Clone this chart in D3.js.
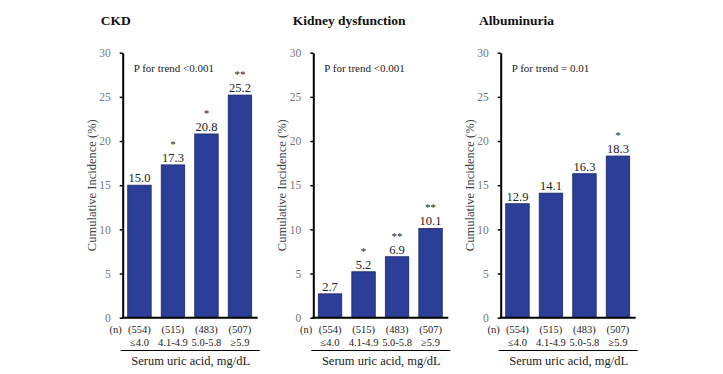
<!DOCTYPE html>
<html>
<head>
<meta charset="utf-8">
<script src="https://cdn.jsdelivr.net/npm/d3@7"></script>
<style>
  body { margin: 0; background: #fff; }
  svg { display: block; font-family: "Liberation Serif", "DejaVu Serif", serif; }
</style>
</head>
<body>
<svg id="chart" width="723" height="374"></svg>
<script>
// data
const categories = ["≤4.0", "4.1-4.9", "5.0-5.8", "≥5.9"];
const counts = ["(554)", "(515)", "(483)", "(507)"];
const panelTitles = ["CKD", "Kidney dysfunction", "Albuminuria"];
const trendLabels = ["P for trend <0.001", "P for trend <0.001", "P for trend = 0.01"];
const ckdValues = [15.0, 17.3, 20.8, 25.2];
const ckdStars = ["", "*", "*", "**"];
const kidneyValues = [2.7, 5.2, 6.9, 10.1];
const kidneyStars = ["", "*", "**", "**"];
const albuminValues = [12.9, 14.1, 16.3, 18.3];
const albuminStars = ["", "", "", "*"];
const yTicks = [0, 5, 10, 15, 20, 25, 30];

const panels = [
    { title: panelTitles[0], trend: trendLabels[0], values: ckdValues, stars: ckdStars },
    { title: panelTitles[1], trend: trendLabels[1], values: kidneyValues, stars: kidneyStars },
    { title: panelTitles[2], trend: trendLabels[2], values: albuminValues, stars: albuminStars }
];

const svg = d3.select('#chart');
const axisX = [122.7, 313.3, 500.7]; // y-axis position for each panel
const titleX = [100.7, 292.7, 479];
const plotWidth = 134;
const barColor = '#2c3f98';

const y = d3.scaleLinear().domain([0, 30]).range([317.7, 52.7]);

panels.forEach((panel, i) => {
    const x0 = axisX[i];
    const g = svg.append('g');

    const x = d3.scaleBand()
        .domain(categories)
        .range([x0, x0 + plotWidth])
        .paddingInner(0.3)
        .paddingOuter(0.15);

    // title
    g.append('text')
        .attr('x', titleX[i])
        .attr('y', 25)
        .attr('font-size', 13.5)
        .attr('font-weight', 'bold')
        .attr('fill', '#111')
        .text(panel.title);

    // bars
    g.selectAll('rect.bar')
        .data(panel.values)
        .enter()
        .append('rect')
        .attr('class', 'bar')
        .attr('x', (d, j) => x(categories[j]))
        .attr('width', x.bandwidth())
        .attr('y', d => y(d))
        .attr('height', d => y(0) - y(d))
        .attr('fill', barColor)
        .attr('stroke', '#1b2565')
        .attr('stroke-width', 0.8);

    // value labels
    g.selectAll('text.val')
        .data(panel.values)
        .enter()
        .append('text')
        .attr('class', 'val')
        .attr('x', (d, j) => x(categories[j]) + x.bandwidth() / 2)
        .attr('y', d => y(d) - 3)
        .attr('text-anchor', 'middle')
        .attr('font-size', 12.5)
        .attr('fill', '#222')
        .text(d => d.toFixed(1));

    // significance stars
    g.selectAll('text.star')
        .data(panel.stars)
        .enter()
        .append('text')
        .attr('class', 'star')
        .attr('x', (d, j) => x(categories[j]) + x.bandwidth() / 2)
        .attr('y', (d, j) => y(panel.values[j]) - 17)
        .attr('text-anchor', 'middle')
        .attr('font-size', 11)
        .attr('fill', '#222')
        .text(d => d);

    // y axis
    const yAxis = g.append('g')
        .attr('transform', `translate(${x0},0)`)
        .call(d3.axisLeft(y).tickValues(yTicks).tickSize(3).tickSizeOuter(0).tickPadding(9));
    yAxis.select('.domain').attr('stroke', '#000').attr('stroke-width', 2);
    yAxis.selectAll('.tick line').attr('stroke', '#000').attr('stroke-width', 1.5);
    yAxis.selectAll('.tick text')
        .attr('font-family', '"Liberation Serif", serif')
        .attr('font-size', 11.5)
        .attr('fill', '#777');

    // baseline
    g.append('line')
        .attr('x1', x0 - 1)
        .attr('x2', x0 + plotWidth + 1)
        .attr('y1', y(0))
        .attr('y2', y(0))
        .attr('stroke', '#000')
        .attr('stroke-width', 2);

    // y axis title
    g.append('text')
        .attr('transform', `translate(${x0 - 27},${y(15)}) rotate(-90)`)
        .attr('text-anchor', 'middle')
        .attr('font-size', 12.5)
        .attr('fill', '#444')
        .text('Cumulative Incidence (%)');

    // P for trend
    g.append('text')
        .attr('x', x0 + 11)
        .attr('y', 72)
        .attr('font-size', 11)
        .attr('fill', '#222')
        .text(panel.trend);

    // (n) row
    g.append('text')
        .attr('x', x0 - 1)
        .attr('y', 333)
        .attr('text-anchor', 'end')
        .attr('font-size', 10.5)
        .attr('fill', '#222')
        .text('(n)');

    g.selectAll('text.n')
        .data(counts)
        .enter()
        .append('text')
        .attr('class', 'n')
        .attr('x', (d, j) => x(categories[j]) + x.bandwidth() / 2)
        .attr('y', 333)
        .attr('text-anchor', 'middle')
        .attr('font-size', 10.5)
        .attr('fill', '#222')
        .text(d => d);

    g.selectAll('text.cat')
        .data(categories)
        .enter()
        .append('text')
        .attr('class', 'cat')
        .attr('x', d => x(d) + x.bandwidth() / 2)
        .attr('y', 346)
        .attr('text-anchor', 'middle')
        .attr('font-size', 10.5)
        .attr('fill', '#222')
        .text(d => d);

    g.append('line')
        .attr('x1', x0 - 2)
        .attr('x2', x0 + plotWidth + 3)
        .attr('y1', 350.5)
        .attr('y2', 350.5)
        .attr('stroke', '#000')
        .attr('stroke-width', 1.2);

    g.append('text')
        .attr('x', x0 + plotWidth / 2 + 1)
        .attr('y', 365)
        .attr('text-anchor', 'middle')
        .attr('font-size', 12.5)
        .attr('fill', '#222')
        .text('Serum uric acid, mg/dL');
});
</script>
</body>
</html>
